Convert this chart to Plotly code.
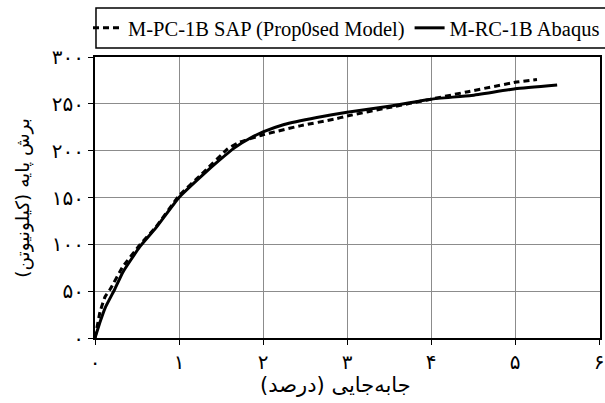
import plotly.graph_objects as go

# Drift ratio (%) and base shear (kN) for the two models
sap_drift = [0, 0.06, 0.12, 0.18, 0.33, 0.53, 0.72, 1.0, 1.27, 1.58, 1.72, 2.0, 2.44, 2.84, 3.0, 3.5, 4.0, 4.44, 5.0, 5.26]
sap_shear = [0, 28, 44, 52, 76, 99, 118, 152, 175, 202, 209, 217, 226.5, 233.5, 237, 246, 255, 263, 273, 276]

abaqus_drift = [0, 0.06, 0.12, 0.235, 0.33, 0.53, 0.72, 1.0, 1.27, 1.47, 1.66, 1.86, 2.0, 2.25, 2.64, 3.0, 3.5, 4.0, 4.48, 5.0, 5.5]
abaqus_shear = [0, 17, 32, 52, 70, 97, 117, 150, 173, 189, 203, 214, 220, 228, 235.5, 241, 247.5, 255, 259, 266, 270]

x_tick_vals = [0, 1, 2, 3, 4, 5, 6]
x_tick_text = ["۰", "۱", "۲", "۳", "۴", "۵", "۶"]
y_tick_vals = [0, 50, 100, 150, 200, 250, 300]
y_tick_text = ["۰", "۵۰", "۱۰۰", "۱۵۰", "۲۰۰", "۲۵۰", "۳۰۰"]

x_title = "جابه‌جایی (درصد)"
y_title = "برش پایه (کیلونیوتن)"

serif = "Liberation Serif, DejaVu Serif, DejaVu Sans, serif"

fig = go.Figure()
fig.add_trace(go.Scatter(
    x=sap_drift, y=sap_shear, mode="lines",
    name="M-PC-1B SAP (Prop0sed Model)",
    line=dict(color="black", width=3, dash="6px,4px", shape="spline", smoothing=0.3),
))
fig.add_trace(go.Scatter(
    x=abaqus_drift, y=abaqus_shear, mode="lines",
    name="M-RC-1B Abaqus",
    line=dict(color="black", width=3, shape="spline", smoothing=0.4),
))

L, T, B = 95, 57, 65
W, H = 605, 403
pw, ph = W - L, H - T - B

def px_x(p):
    return (p - L) / pw

def px_y(p):
    return (H - B - p) / ph

# framed legend box running off the right edge
fig.add_shape(type="rect", xref="paper", yref="paper",
              x0=px_x(96), x1=px_x(640), y0=px_y(48), y1=px_y(8),
              line=dict(color="black", width=1.5), fillcolor="white", layer="below")

fig.update_layout(
    width=W, height=H,
    margin=dict(l=L, r=0, t=T, b=B),
    plot_bgcolor="white", paper_bgcolor="white",
    font=dict(family=serif, color="black"),
    showlegend=True,
    legend=dict(orientation="h", x=px_x(92), xanchor="left",
                y=px_y(28), yanchor="middle",
                bgcolor="rgba(0,0,0,0)", borderwidth=0,
                font=dict(size=20.5, family=serif)),
    xaxis=dict(range=[0, 6.01], tickvals=x_tick_vals, ticktext=x_tick_text,
               showgrid=True, gridcolor="#8c8c8c", gridwidth=1.2,
               showline=True, linecolor="black", linewidth=2, mirror=True,
               ticks="outside", ticklen=5, tickcolor="black",
               ticklabeloverflow="allow",
               tickfont=dict(size=20, family="DejaVu Sans"), zeroline=False),
    yaxis=dict(range=[0, 300], tickvals=y_tick_vals, ticktext=y_tick_text,
               showgrid=True, gridcolor="#8c8c8c", gridwidth=1.2,
               showline=True, linecolor="black", linewidth=2, mirror=True,
               ticks="outside", ticklen=5, tickcolor="black",
               tickfont=dict(size=20, family="DejaVu Sans"), zeroline=False),
    annotations=[
        dict(text=x_title, xref="paper", yref="paper", x=px_x(338), y=px_y(385),
             showarrow=False, font=dict(size=21, family="DejaVu Sans"),
             xanchor="center", yanchor="middle"),
        dict(text=y_title, xref="paper", yref="paper", x=px_x(22), y=px_y(198),
             showarrow=False, textangle=-90, font=dict(size=18.5, family="DejaVu Sans"),
             xanchor="center", yanchor="middle"),
    ],
)

fig.write_html("out.html")
